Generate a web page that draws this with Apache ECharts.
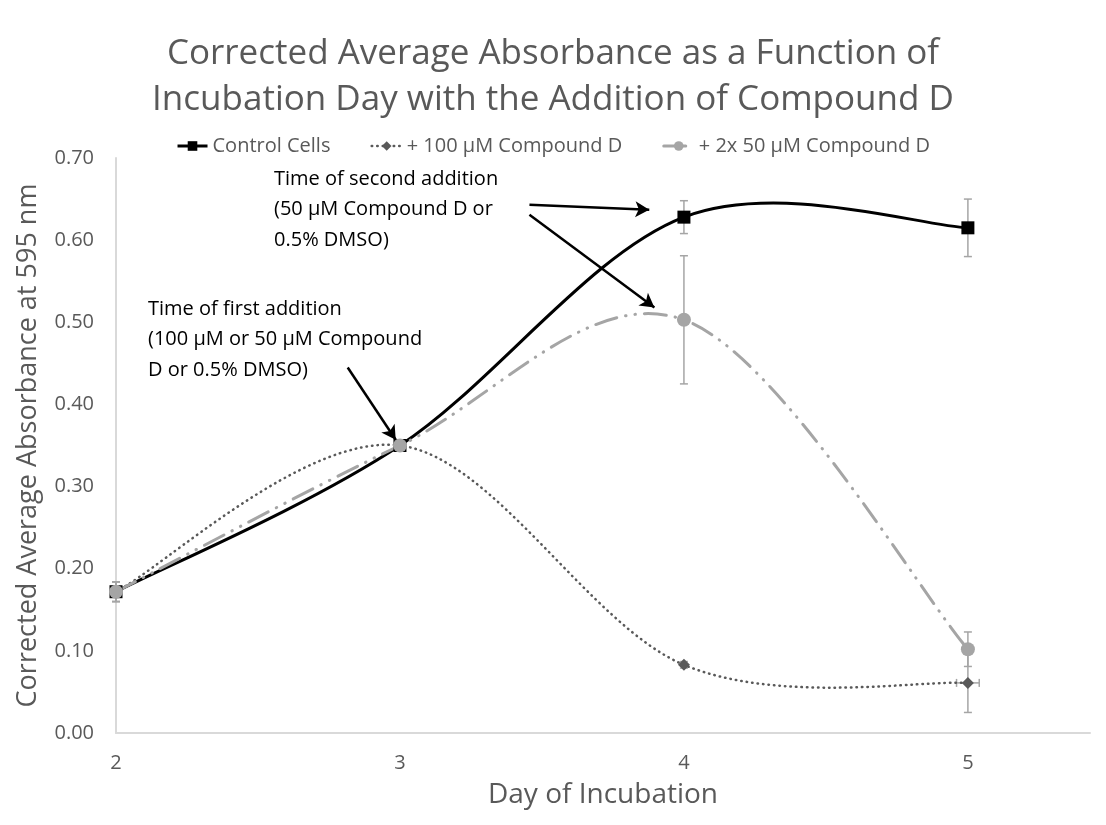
<!DOCTYPE html>
<html>
<head>
<meta charset="utf-8">
<script src="https://cdn.jsdelivr.net/npm/echarts@6/dist/echarts.min.js"></script>
<style>
  html, body { margin: 0; padding: 0; background: #fff; }
  #chart { width: 1106px; height: 825px; }
</style>
</head>
<body>
<div id="chart"></div>
<script>
// day of incubation
const days = [2, 3, 4, 5]

// corrected average absorbance at 595 nm
const controlCells = [0.172, 0.35, 0.628, 0.615]
const compound100 = [0.172, 0.35, 0.083, 0.061]
const compound2x50 = [0.172, 0.35, 0.503, 0.102]

// error bars (absorbance, +/-)
const controlErr = [0.012, 0.004, 0.02, 0.035]
const compound100Err = [0.012, 0.004, 0.004, 0.036]
const compound2x50Err = [0.012, 0.004, 0.078, 0.021]
// horizontal error (days), only visible on the last diamond
const compound100XErr = [0, 0, 0, 0.04]

const seriesNames = ['Control Cells', '+ 100 µM Compound D', '+ 2x 50 µM Compound D']

// annotation arrows in data coordinates [from, to]
const arrowFirst = [[2.816, 0.445], [2.985, 0.357]]
const arrowSecondA = [[3.456, 0.643], [3.878, 0.637]]
const arrowSecondB = [[3.456, 0.631], [3.896, 0.518]]

const FONT = '"Open Sans", "Noto Sans", sans-serif'
const GREY_TXT = '#595959'

const lineStyles = [
  { color: '#000', width: 3, type: 'solid' },
  { color: '#595959', width: 2.5, type: [0.5, 5], cap: 'round' },
  { color: '#a5a5a5', width: 3, type: [22, 9, 0.5, 9, 0.5, 9], cap: 'round' }
]

const chart = echarts.init(document.getElementById('chart'))

function pairs(ys) {
  return days.map((d, i) => [d, ys[i]])
}

function errData(ys, errs, xerrs) {
  return days.map((d, i) => [d, ys[i], errs[i], xerrs ? xerrs[i] : 0])
}

function renderErr(params, api) {
  const x = api.value(0)
  const y = api.value(1)
  const e = api.value(2)
  const xe = api.value(3)
  const top = api.coord([x, y + e])
  const bot = api.coord([x, y - e])
  const cap = 4
  const style = { stroke: '#a5a5a5', lineWidth: 1.5 }
  const children = [
    { type: 'line', shape: { x1: top[0], y1: top[1], x2: bot[0], y2: bot[1] }, style },
    { type: 'line', shape: { x1: top[0] - cap, y1: top[1], x2: top[0] + cap, y2: top[1] }, style },
    { type: 'line', shape: { x1: bot[0] - cap, y1: bot[1], x2: bot[0] + cap, y2: bot[1] }, style }
  ]
  if (xe > 0) {
    const l = api.coord([x - xe, y])
    const r = api.coord([x + xe, y])
    children.push(
      { type: 'line', shape: { x1: l[0], y1: l[1], x2: r[0], y2: r[1] }, style },
      { type: 'line', shape: { x1: l[0], y1: l[1] - cap, x2: l[0], y2: l[1] + cap }, style },
      { type: 'line', shape: { x1: r[0], y1: r[1] - cap, x2: r[0], y2: r[1] + cap }, style }
    )
  }
  return { type: 'group', children }
}

// Excel-like smoothed line (Catmull-Rom style bezier through the points)
function curveRenderer(ys, ls) {
  return function (params, api) {
    if (params.dataIndex !== 0) return
    const p = days.map((d, i) => api.coord([d, ys[i]]))
    const n = p.length
    const at = i => p[Math.max(0, Math.min(n - 1, i))]
    let d = 'M' + p[0][0] + ' ' + p[0][1]
    for (let i = 0; i < n - 1; i++) {
      const a = at(i - 1), b = at(i), c = at(i + 1), e = at(i + 2)
      const c1 = [b[0] + (c[0] - a[0]) / 6, b[1] + (c[1] - a[1]) / 6]
      const c2 = [c[0] - (e[0] - b[0]) / 6, c[1] - (e[1] - b[1]) / 6]
      d += ' C' + c1.join(' ') + ' ' + c2.join(' ') + ' ' + c.join(' ')
    }
    return {
      type: 'path',
      shape: { pathData: d },
      style: {
        fill: 'none',
        stroke: ls.color,
        lineWidth: ls.width,
        lineDash: Array.isArray(ls.type) ? ls.type : null,
        lineCap: ls.cap || 'butt'
      }
    }
  }
}

function arrow(pts) {
  return [
    { coord: pts[0], symbol: 'none' },
    { coord: pts[1], symbol: 'arrow' }
  ]
}

const noteStyle = { fill: '#000', font: '20px ' + FONT, lineHeight: 30.5 }

const option = {
  animation: false,
  textStyle: { fontFamily: FONT },
  title: {
    text: 'Corrected Average Absorbance as a Function of\nIncubation Day with the Addition of Compound D',
    left: 'center',
    top: 26,
    textStyle: { fontFamily: FONT, fontSize: 35, fontWeight: 'normal', color: GREY_TXT, lineHeight: 46 }
  },
  legend: {
    top: 131,
    left: 'center',
    itemGap: 40,
    itemWidth: 30,
    itemHeight: 12,
    textStyle: { fontFamily: FONT, fontSize: 20, color: GREY_TXT },
    data: seriesNames.map((name, i) => ({
      name,
      lineStyle: Object.assign({ opacity: 1 }, lineStyles[i])
    }))
  },
  grid: { left: 116, right: 16, top: 158, bottom: 92 },
  xAxis: {
    type: 'value',
    min: 2,
    max: 5.43,
    interval: 1,
    name: 'Day of Incubation',
    nameLocation: 'middle',
    nameGap: 48,
    nameTextStyle: { fontFamily: FONT, fontSize: 28, color: GREY_TXT },
    axisLine: { show: true, lineStyle: { color: '#d9d9d9', width: 2 } },
    axisTick: { show: false },
    splitLine: { show: false },
    axisLabel: { color: GREY_TXT, fontSize: 20, margin: 20, showMaxLabel: false,
      formatter: v => Number.isInteger(v) ? String(v) : '' }
  },
  yAxis: {
    type: 'value',
    min: 0,
    max: 0.7,
    interval: 0.1,
    name: 'Corrected Average Absorbance at 595 nm',
    nameLocation: 'middle',
    nameGap: 74,
    nameTextStyle: { fontFamily: FONT, fontSize: 27, color: GREY_TXT },
    axisLine: { show: true, lineStyle: { color: '#d9d9d9', width: 2 } },
    axisTick: { show: false },
    splitLine: { show: false },
    axisLabel: { color: GREY_TXT, fontSize: 20, margin: 22, formatter: v => v.toFixed(2) }
  },
  graphic: [
    { type: 'text', left: 148, top: 294, style: Object.assign({
      text: 'Time of first addition\n(100 µM or 50 µM Compound\nD or 0.5% DMSO)' }, noteStyle) },
    { type: 'text', left: 274, top: 164, style: Object.assign({
      text: 'Time of second addition\n(50 µM Compound D or\n0.5% DMSO)' }, noteStyle) }
  ],
  series: [
    { type: 'custom', name: 'errControl', data: errData(controlCells, controlErr),
      renderItem: renderErr, z: 1, silent: true },
    { type: 'custom', name: 'err100', data: errData(compound100, compound100Err, compound100XErr),
      renderItem: renderErr, z: 1, silent: true },
    { type: 'custom', name: 'err2x50', data: errData(compound2x50, compound2x50Err),
      renderItem: renderErr, z: 1, silent: true },
    { type: 'custom', name: 'curveControl', data: pairs(controlCells),
      renderItem: curveRenderer(controlCells, lineStyles[0]), z: 2, silent: true },
    { type: 'custom', name: 'curve100', data: pairs(compound100),
      renderItem: curveRenderer(compound100, lineStyles[1]), z: 2, silent: true },
    { type: 'custom', name: 'curve2x50', data: pairs(compound2x50),
      renderItem: curveRenderer(compound2x50, lineStyles[2]), z: 2, silent: true },
    {
      name: seriesNames[0],
      type: 'line',
      data: pairs(controlCells),
      symbol: 'rect',
      symbolSize: 13,
      z: 3,
      itemStyle: { color: '#000' },
      lineStyle: Object.assign({}, lineStyles[0], { opacity: 0 }),
      markLine: {
        silent: true,
        symbolSize: [12, 14],
        label: { show: false },
        lineStyle: { color: '#000', width: 2.5, type: 'solid', opacity: 1 },
        data: [arrow(arrowFirst), arrow(arrowSecondA), arrow(arrowSecondB)]
      }
    },
    {
      name: seriesNames[1],
      type: 'line',
      data: pairs(compound100),
      symbol: 'diamond',
      symbolSize: 12,
      z: 4,
      itemStyle: { color: '#595959' },
      lineStyle: Object.assign({}, lineStyles[1], { opacity: 0 })
    },
    {
      name: seriesNames[2],
      type: 'line',
      data: pairs(compound2x50),
      symbol: 'circle',
      symbolSize: 14,
      z: 5,
      itemStyle: { color: '#a5a5a5' },
      lineStyle: Object.assign({}, lineStyles[2], { opacity: 0 })
    }
  ]
}

chart.setOption(option)
</script>
</body>
</html>
